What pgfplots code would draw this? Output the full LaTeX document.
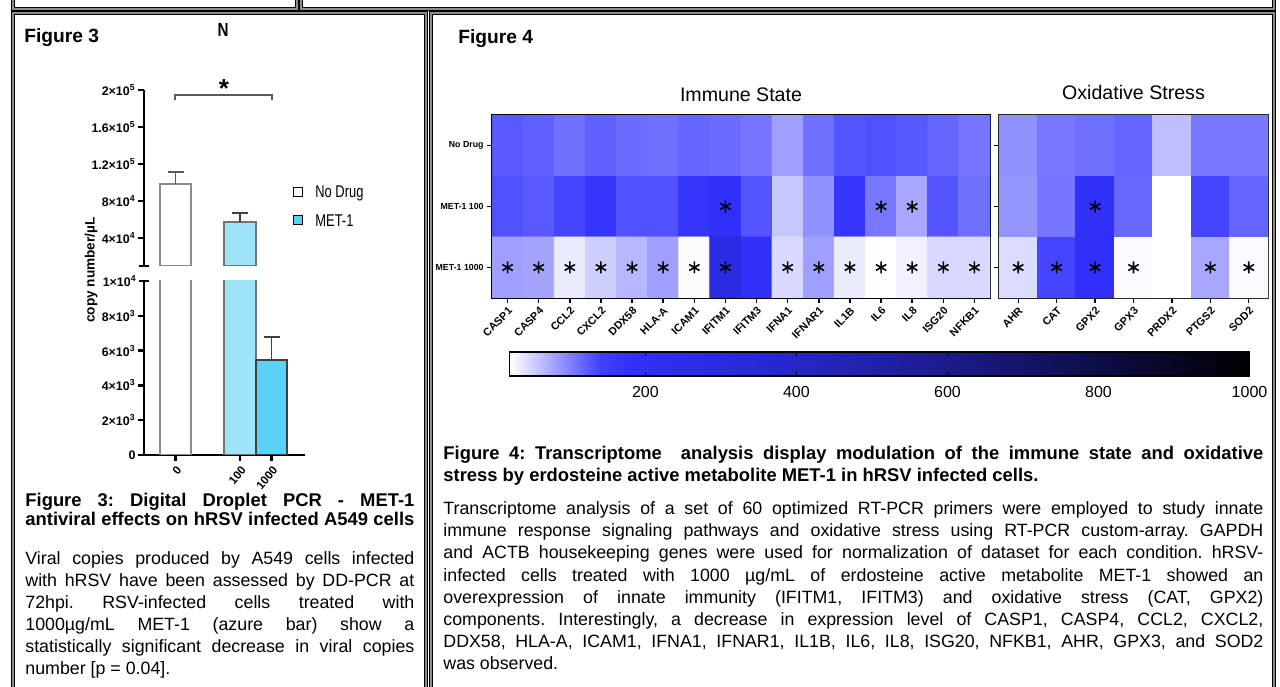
\documentclass[border=0pt]{standalone}
\usepackage{fontspec}
\setmainfont{Liberation Sans}
\usepackage{pgfplots}
\pgfplotsset{compat=1.18}
\usepackage{pgfplotstable}

\definecolor{barA}{HTML}{9DE4F8}
\definecolor{barB}{HTML}{5BD1F7}
\definecolor{edgegray}{HTML}{8A8A8A}

\pgfplotsset{
  /pgf/number format/assume math mode=true,
  /pgf/number format/1000 sep={},
  colormap={heat}{rgb255(20)=(255,255,255) rgb255(140)=(64,64,255) rgb255(180)=(48,48,250) rgb255(400)=(38,38,200) rgb255(600)=(27,27,140) rgb255(800)=(13,13,72) rgb255(1000)=(0,0,0)},
}

\pgfplotstableread{
x y v
0 0 124
1 0 120
2 0 110
3 0 120
4 0 113
5 0 110
6 0 117
7 0 113
8 0 107
9 0 80
10 0 110
11 0 127
12 0 130
13 0 125
14 0 117
15 0 107
0 1 130
1 1 124
2 1 137
3 1 167
4 1 130
5 1 130
6 1 167
7 1 180
8 1 127
9 1 55
10 1 90
11 1 167
12 1 105
13 1 75
14 1 127
15 1 110
0 2 80
1 2 77
2 2 32
3 2 50
4 2 65
5 2 80
6 2 22
7 2 280
8 2 180
9 2 44
10 2 80
11 2 32
12 2 20
13 2 29
14 2 44
15 2 44
}\immune

\pgfplotstableread{
x y v
0 0 90
1 0 105
2 0 110
3 0 117
4 0 60
5 0 104
6 0 104
0 1 87
1 1 107
2 1 180
3 1 115
4 1 20
5 1 137
6 1 117
0 2 42
1 2 137
2 2 180
3 2 23
4 2 20
5 2 75
6 2 23
}\oxid

\pgfplotstableread{
x y
7 1
12 1
13 1
0 2
1 2
2 2
3 2
4 2
5 2
6 2
7 2
9 2
10 2
11 2
12 2
13 2
14 2
15 2
}\immstars

\pgfplotstableread{
x y
2 1
0 2
1 2
2 2
3 2
5 2
6 2
}\oxstars

\pgfplotstableread{
x y m
20 0 20
140 0 140
180 0 180
400 0 400
600 0 600
800 0 800
1000 0 1000
20 1 20
140 1 140
180 1 180
400 1 400
600 1 600
800 1 800
1000 1 1000
}\cbar

\pgfplotstableread{
x y e
175.5 98500 13000
}\nodrug
\pgfplotstableread{
x y e
240 57500 9700
}\metA
\pgfplotstableread{
x y e
271.5 5460 1320
}\metB

\newcommand\bodyfont{\fontsize{8.9}{11}\selectfont}
\newcommand\capfont{\bfseries\fontsize{9.2}{11}\selectfont}

\begin{document}
\frenchspacing
\begin{tikzpicture}
\useasboundingbox (0,0) rectangle (640pt,343pt);

% ---------------- Figure 3 : upper segment ----------------
\begin{axis}[
  at={(72pt,210pt)}, anchor=south west,
  scale only axis, width=80.5pt, height=88pt,
  xmin=144, xmax=305, ymin=10000, ymax=200000,
  axis x line=none, axis y line=left,
  axis line style={-, line width=1.2pt, black},
  y axis line style={-},
  scaled y ticks=false,
  ytick={40000,80000,120000,160000,200000},
  yticklabels={4×10\textsuperscript{4},8×10\textsuperscript{4},1.2×10\textsuperscript{5},1.6×10\textsuperscript{5},2×10\textsuperscript{5}},
  yticklabel style={font=\bfseries\fontsize{6.2}{7}\selectfont, inner sep=1pt},
  tick align=outside, major tick length=3pt,
  tick style={line width=1.2pt, black},
  extra y ticks={10000}, extra y tick labels={},
  extra y tick style={tick align=center, major tick length=5pt},
]
\addplot[ybar, bar width=31.5, bar shift=0pt, fill=white, draw=edgegray, line width=0.8pt,
  error bars/.cd, y dir=plus, y explicit,
  error bar style={line width=0.8pt, black!65},
  error mark options={rotate=90, mark size=4pt, line width=0.8pt, black!65}]
  table[x=x, y=y, y error=e] {\nodrug};
\addplot[ybar, bar width=31.5, bar shift=0pt, fill=barA, draw=black!55, line width=0.8pt,
  error bars/.cd, y dir=plus, y explicit,
  error bar style={line width=0.8pt, black!75},
  error mark options={rotate=90, mark size=4pt, line width=0.8pt, black!75}]
  table[x=x, y=y, y error=e] {\metA};
\end{axis}

% ---------------- Figure 3 : lower segment ----------------
\begin{axis}[
  at={(72pt,115.5pt)}, anchor=south west,
  scale only axis, width=80.5pt, height=87pt,
  xmin=144, xmax=305, ymin=0, ymax=10000,
  axis x line=bottom, axis y line=left,
  axis line style={-, line width=1.2pt, black},
  x axis line style={-}, y axis line style={-},
  scaled y ticks=false,
  xtick={175.5,240,271.5}, xticklabels={0,100,1000},
  xticklabel style={font=\bfseries\fontsize{5.8}{7}\selectfont, rotate=50, anchor=north east, inner sep=1.5pt},
  ytick={0,2000,4000,6000,8000},
  yticklabels={0,2×10\textsuperscript{3},4×10\textsuperscript{3},6×10\textsuperscript{3},8×10\textsuperscript{3}},
  yticklabel style={font=\bfseries\fontsize{6.2}{7}\selectfont, inner sep=1pt},
  tick align=outside, major tick length=3pt,
  tick style={line width=1.2pt, black},
  extra y ticks={10000}, extra y tick labels={1×10\textsuperscript{4}},
  extra y tick style={tick align=center, major tick length=5pt},
]
\addplot[ybar, bar width=31.5, bar shift=0pt, fill=white, draw=edgegray, line width=0.8pt]
  table[x=x, y=y] {\nodrug};
\addplot[ybar, bar width=31.5, bar shift=0pt, fill=barA, draw=black!55, line width=0.8pt]
  table[x=x, y=y] {\metA};
\addplot[ybar, bar width=31.5, bar shift=0pt, fill=barB, draw=black!75, line width=0.8pt,
  error bars/.cd, y dir=plus, y explicit,
  error bar style={line width=0.8pt, black!75},
  error mark options={rotate=90, mark size=4pt, line width=0.8pt, black!75}]
  table[x=x, y=y, y error=e] {\metB};
\end{axis}

% ---------------- Figure 4 : Immune State ----------------
\begin{axis}[
  at={(246pt,194pt)}, anchor=south west,
  scale only axis, width=249pt, height=91.5pt,
  xmin=-0.5, xmax=15.5, ymin=-0.5, ymax=2.5, y dir=reverse,
  enlargelimits=false,
  colormap name=heat, point meta min=20, point meta max=1000,
  axis line style={line width=1pt, black},
  tick pos=left, tick align=outside, major tick length=2.5pt,
  tick style={line width=0.7pt, black},
  xtick={0,...,15},
  xticklabels={CASP1,CASP4,CCL2,CXCL2,DDX58,HLA-A,ICAM1,IFITM1,IFITM3,IFNA1,IFNAR1,IL1B,IL6,IL8,ISG20,NFKB1},
  xticklabel style={font=\bfseries\fontsize{5.4}{6}\selectfont, rotate=45, anchor=north east, inner sep=1pt},
  ytick={0,1,2}, yticklabels={No Drug,MET-1 100,MET-1 1000},
  yticklabel style={font=\bfseries\fontsize{4.4}{5}\selectfont, inner sep=1.5pt},
]
\addplot[matrix plot*, mesh/cols=16, point meta=explicit, faceted color=mapped color] table[x=x, y=y, meta=v] {\immune};
\addplot[only marks, mark=asterisk, mark size=3pt, mark options={line width=0.8pt, black}] table[x=x, y=y] {\immstars};
\end{axis}

% ---------------- Figure 4 : Oxidative Stress ----------------
\begin{axis}[
  at={(499.5pt,194pt)}, anchor=south west,
  scale only axis, width=134.5pt, height=91.5pt,
  xmin=-0.5, xmax=6.5, ymin=-0.5, ymax=2.5, y dir=reverse,
  enlargelimits=false,
  colormap name=heat, point meta min=20, point meta max=1000,
  axis line style={line width=1pt, black!85},
  tick pos=left, tick align=outside, major tick length=2.5pt,
  tick style={line width=0.7pt, black},
  xtick={0,...,6},
  xticklabels={AHR,CAT,GPX2,GPX3,PRDX2,PTGS2,SOD2},
  xticklabel style={font=\bfseries\fontsize{5.4}{6}\selectfont, rotate=45, anchor=north east, inner sep=1pt},
  ytick={0,1,2}, yticklabels={,,},
]
\addplot[matrix plot*, mesh/cols=7, point meta=explicit, faceted color=mapped color] table[x=x, y=y, meta=v] {\oxid};
\addplot[only marks, mark=asterisk, mark size=3pt, mark options={line width=0.8pt, black}] table[x=x, y=y] {\oxstars};
\end{axis}

% ---------------- colour scale ----------------
\begin{axis}[
  at={(254.75pt,155pt)}, anchor=south west,
  scale only axis, width=370pt, height=12pt,
  xmin=20, xmax=1000, ymin=0, ymax=1, enlargelimits=false,
  colormap name=heat, point meta min=20, point meta max=1000,
  axis on top,
  axis line style={line width=0.75pt, black},
  ytick=\empty, xtick={200,400,600,800,1000},
  tick align=inside, major tick length=2pt,
  tick style={line width=0.75pt, black},
  xticklabel style={font=\fontsize{8}{9}\selectfont, yshift=-1.5pt},
]
\addplot[surf, shader=interp, mesh/cols=7, point meta=explicit] table[x=x, y=y, meta=m] {\cbar};
\end{axis}

% ---------------- texts and frames (pixel coordinates) ----------------
\begin{scope}[x=0.5pt, y=-0.5pt, shift={(0pt,343pt)}]
\tikzset{panel/.style={line width=0.55pt, double=black!45, double distance=0.6pt}}
\draw[panel] (13,-20) rectangle (297,9);
\draw[panel] (301,-20) rectangle (1274,9);
\draw[panel] (13,13) rectangle (426,700);
\draw[panel] (431,13) rectangle (1274,700);

\node[anchor=base west, inner sep=0, font=\bfseries\fontsize{9.6}{11}\selectfont] at (24,43) {Figure 3};
\node[anchor=base, inner sep=0, font=\bfseries\fontsize{9.5}{10}\selectfont] at (223,37) {\scalebox{0.8}[1]{N}};
\node[anchor=base west, inner sep=0, font=\bfseries\fontsize{9.6}{11}\selectfont] at (458,44) {Figure 4};

% bar chart annotations
\draw[line width=0.6pt, black!65] (175,100) -- (175,95) -- (272,95) -- (272,100);
\node[font=\bfseries\fontsize{13}{14}\selectfont, inner sep=0] at (224,89) {*};
\node[rotate=90, font=\bfseries\fontsize{6.8}{8}\selectfont] at (91,270) {copy number/µL};
\draw[black, line width=0.5pt, fill=white] (293,188) rectangle (302,197);
\node[anchor=west, inner sep=0, font=\fontsize{8.5}{10}\selectfont] at (315,193) {\scalebox{0.76}[1]{No Drug}};
\draw[black, line width=0.5pt, fill=barB] (293,216) rectangle (302,225);
\node[anchor=west, inner sep=0, font=\fontsize{8.5}{10}\selectfont] at (315,221) {\scalebox{0.76}[1]{MET-1}};

% heatmap titles
\node[anchor=base, inner sep=0, font=\fontsize{9.8}{11}\selectfont] at (741,102) {Immune State};
\node[anchor=base, inner sep=0, font=\fontsize{9.8}{11}\selectfont] at (1133.5,100) {Oxidative Stress};

% Figure 3 caption
\node[anchor=base west, inner sep=0, font=\capfont] at (25,507) {\makebox[194.5pt][s]{Figure 3: Digital Droplet PCR - MET-1}};
\node[anchor=base west, inner sep=0, font=\capfont] at (25,525) {\makebox[194.5pt][s]{antiviral effects on hRSV infected A549 cells}};
\node[anchor=base west, inner sep=0, font=\bodyfont] at (25,564) {\makebox[194.5pt][s]{Viral copies produced by A549 cells infected}};
\node[anchor=base west, inner sep=0, font=\bodyfont] at (25,586) {\makebox[194.5pt][s]{with hRSV have been assessed by DD-PCR at}};
\node[anchor=base west, inner sep=0, font=\bodyfont] at (25,608) {\makebox[194.5pt][s]{72hpi. RSV-infected cells treated with}};
\node[anchor=base west, inner sep=0, font=\bodyfont] at (25,630) {\makebox[194.5pt][s]{1000µg/mL MET-1 (azure bar) show a}};
\node[anchor=base west, inner sep=0, font=\bodyfont] at (25,652) {\makebox[194.5pt][s]{statistically significant decrease in viral copies}};
\node[anchor=base west, inner sep=0, font=\bodyfont] at (25,674) {number [p = 0.04].};

% Figure 4 caption
\node[anchor=base west, inner sep=0, font=\capfont] at (443,459) {\makebox[410pt][s]{Figure 4: Transcriptome\ \ analysis display modulation of the immune state and oxidative}};
\node[anchor=base west, inner sep=0, font=\capfont] at (443,481) {stress by erdosteine active metabolite MET-1 in hRSV infected cells.};
\node[anchor=base west, inner sep=0, font=\bodyfont] at (443,514.5) {\makebox[410pt][s]{Transcriptome analysis of a set of 60 optimized RT-PCR primers were employed to study innate}};
\node[anchor=base west, inner sep=0, font=\bodyfont] at (443,536.7) {\makebox[410pt][s]{immune response signaling pathways and oxidative stress using RT-PCR custom-array. GAPDH}};
\node[anchor=base west, inner sep=0, font=\bodyfont] at (443,558.9) {\makebox[410pt][s]{and ACTB housekeeping genes were used for normalization of dataset for each condition. hRSV-}};
\node[anchor=base west, inner sep=0, font=\bodyfont] at (443,581.1) {\makebox[410pt][s]{infected cells treated with 1000 µg/mL of erdosteine active metabolite MET-1 showed an}};
\node[anchor=base west, inner sep=0, font=\bodyfont] at (443,603.3) {\makebox[410pt][s]{overexpression of innate immunity (IFITM1, IFITM3) and oxidative stress (CAT, GPX2)}};
\node[anchor=base west, inner sep=0, font=\bodyfont] at (443,625.5) {\makebox[410pt][s]{components. Interestingly, a decrease in expression level of CASP1, CASP4, CCL2, CXCL2,}};
\node[anchor=base west, inner sep=0, font=\bodyfont] at (443,647.7) {\makebox[410pt][s]{DDX58, HLA-A, ICAM1, IFNA1, IFNAR1, IL1B, IL6, IL8, ISG20, NFKB1, AHR, GPX3, and SOD2}};
\node[anchor=base west, inner sep=0, font=\bodyfont] at (443,669.9) {was observed.};
\end{scope}
\end{tikzpicture}
\end{document}
